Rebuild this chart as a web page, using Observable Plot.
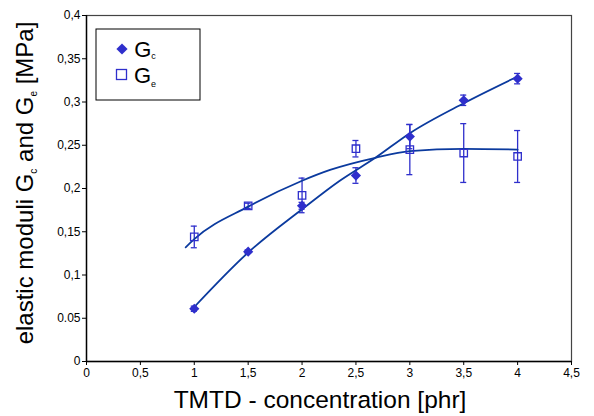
<!DOCTYPE html>
<html>
<head>
<meta charset="utf-8">
<script src="https://cdn.jsdelivr.net/npm/d3@7"></script>
<script src="https://cdn.jsdelivr.net/npm/@observablehq/plot@0.6"></script>
<style>
  html, body { margin: 0; padding: 0; background: #fff; }
  svg { font-family: "Liberation Sans", Arial, sans-serif; }
</style>
</head>
<body>
<div id="chart"></div>
<script>
// Measured data
const conc = [1, 1.5, 2, 2.5, 3, 3.5, 4];
const gcValues = [0.061, 0.127, 0.180, 0.215, 0.260, 0.302, 0.327];
const gcErrors = [0.003, 0.002, 0.004, 0.009, 0.014, 0.006, 0.006];
const geValues = [0.144, 0.180, 0.192, 0.246, 0.245, 0.241, 0.237];
const geErrors = [0.0125, 0.003, 0.02, 0.0095, 0.029, 0.034, 0.030];

// Fitted trend lines
const gcFitX = [1, 1.5, 2, 2.35, 2.68, 3, 3.5, 4];
const gcFitY = [0.063, 0.126, 0.176, 0.209, 0.2355, 0.264, 0.2986, 0.3295];
const geFitX = [0.92, 1.0, 1.5, 2.0, 2.26, 2.68, 3.0, 3.5, 4.0];
const geFitY = [0.132, 0.1415, 0.179, 0.209, 0.2215, 0.2355, 0.2431, 0.2459, 0.245];

// Tick labels
const xTicks = [0, 0.5, 1, 1.5, 2, 2.5, 3, 3.5, 4, 4.5];
const xTickLabels = ["0", "0,5", "1", "1,5", "2", "2,5", "3", "3,5", "4", "4,5"];
const yTicks = [0, 0.05, 0.1, 0.15, 0.2, 0.25, 0.3, 0.35, 0.4];
const yTickLabels = ["0", "0.05", "0,1", "0,15", "0,2", "0,25", "0,3", "0,35", "0,4"];

const gc = conc.map((x, i) => ({x, y: gcValues[i], e: gcErrors[i]}));
const ge = conc.map((x, i) => ({x, y: geValues[i], e: geErrors[i]}));
const gcFit = gcFitX.map((x, i) => ({x, y: gcFitY[i]}));
const geFit = geFitX.map((x, i) => ({x, y: geFitY[i]}));

const markColor = "#2f2fcc";
const lineColor = "#0b3a9e";
const cap = 0.028;
const xFmt = (d) => xTickLabels[xTicks.findIndex(t => Math.abs(t - d) < 1e-9)];
const yFmt = (d) => yTickLabels[yTicks.findIndex(t => Math.abs(t - d) < 1e-9)];

const chart = Plot.plot({
  width: 594,
  height: 416,
  marginLeft: 86,
  marginRight: 23,
  marginTop: 15,
  marginBottom: 55,
  style: {fontFamily: "'Liberation Sans', Arial, sans-serif", fontSize: "12px", background: "#fff", overflow: "visible"},
  x: {domain: [0, 4.5], ticks: xTicks, tickFormat: xFmt, label: null},
  y: {domain: [0, 0.4], ticks: yTicks, tickFormat: yFmt, label: null},
  marks: [
    Plot.frame({stroke: "#444", strokeWidth: 1.2}),
    Plot.axisX({ticks: xTicks, tickFormat: xFmt, tickSize: 4, tickPadding: 3, fontSize: 12, color: "#000"}),
    Plot.axisY({ticks: yTicks, tickFormat: yFmt, tickSize: 4, tickPadding: 2, fontSize: 12, color: "#000"}),
    Plot.ruleY([0], {stroke: "#000", strokeWidth: 1.4}),
    Plot.ruleX([0], {stroke: "#000", strokeWidth: 1.4}),
    // error bars
    Plot.ruleX(ge, {x: "x", y1: d => d.y - d.e, y2: d => d.y + d.e, stroke: markColor, strokeWidth: 1.3}),
    Plot.ruleY(ge, {y: d => d.y - d.e, x1: d => d.x - cap, x2: d => d.x + cap, stroke: markColor, strokeWidth: 1.3}),
    Plot.ruleY(ge, {y: d => d.y + d.e, x1: d => d.x - cap, x2: d => d.x + cap, stroke: markColor, strokeWidth: 1.3}),
    Plot.ruleX(gc, {x: "x", y1: d => d.y - d.e, y2: d => d.y + d.e, stroke: markColor, strokeWidth: 1.3}),
    Plot.ruleY(gc, {y: d => d.y - d.e, x1: d => d.x - cap, x2: d => d.x + cap, stroke: markColor, strokeWidth: 1.3}),
    Plot.ruleY(gc, {y: d => d.y + d.e, x1: d => d.x - cap, x2: d => d.x + cap, stroke: markColor, strokeWidth: 1.3}),
    // fit lines
    Plot.line(gcFit, {x: "x", y: "y", curve: "monotone-x", stroke: lineColor, strokeWidth: 1.8}),
    Plot.line(geFit, {x: "x", y: "y", curve: "monotone-x", stroke: lineColor, strokeWidth: 1.8}),
    // markers
    Plot.dot(ge, {x: "x", y: "y", symbol: "square", r: 4.2, stroke: markColor, strokeWidth: 1.3, fill: "none"}),
    Plot.dot(gc, {x: "x", y: "y", symbol: "diamond2", r: 4.6, fill: markColor, stroke: "none"})
  ]
});

document.getElementById("chart").appendChild(chart);

const svg = d3.select(chart);

// Y axis label with subscripts
const yl = svg.append("text")
  .attr("transform", "translate(33,183) rotate(-90)")
  .attr("text-anchor", "middle")
  .attr("font-size", 24)
  .attr("fill", "#000");
yl.append("tspan").text("elastic moduli G");
yl.append("tspan").attr("font-size", 10).attr("dy", 4).text("c");
yl.append("tspan").attr("dy", -4).text(" and G");
yl.append("tspan").attr("font-size", 10).attr("dy", 4).text("e");
yl.append("tspan").attr("dy", -4).text(" [MPa]");

// X axis label
svg.append("text")
  .attr("x", 320).attr("y", 408)
  .attr("text-anchor", "middle")
  .attr("font-size", 24.5)
  .attr("fill", "#000")
  .text("TMTD - concentration [phr]");

// Legend
const lg = svg.append("g");
lg.append("rect").attr("x", 96).attr("y", 29).attr("width", 104).attr("height", 71)
  .attr("fill", "#fff").attr("stroke", "#000").attr("stroke-width", 1);
lg.append("path").attr("d", d3.symbol(d3.symbolDiamond2, 80)()).attr("transform", "translate(122,49)").attr("fill", markColor);
lg.append("rect").attr("x", 116.5).attr("y", 69.5).attr("width", 10).attr("height", 10)
  .attr("fill", "none").attr("stroke", markColor).attr("stroke-width", 1.3);
const t1 = lg.append("text").attr("x", 145).attr("y", 57).attr("font-size", 22).attr("fill", "#000");
t1.append("tspan").text("G");
t1.append("tspan").attr("font-size", 9).attr("dy", 2).text("c");
const t2 = lg.append("text").attr("x", 145).attr("y", 83).attr("font-size", 22).attr("fill", "#000");
t2.append("tspan").text("G");
t2.append("tspan").attr("font-size", 9).attr("dy", 4).text("e");
</script>
</body>
</html>
